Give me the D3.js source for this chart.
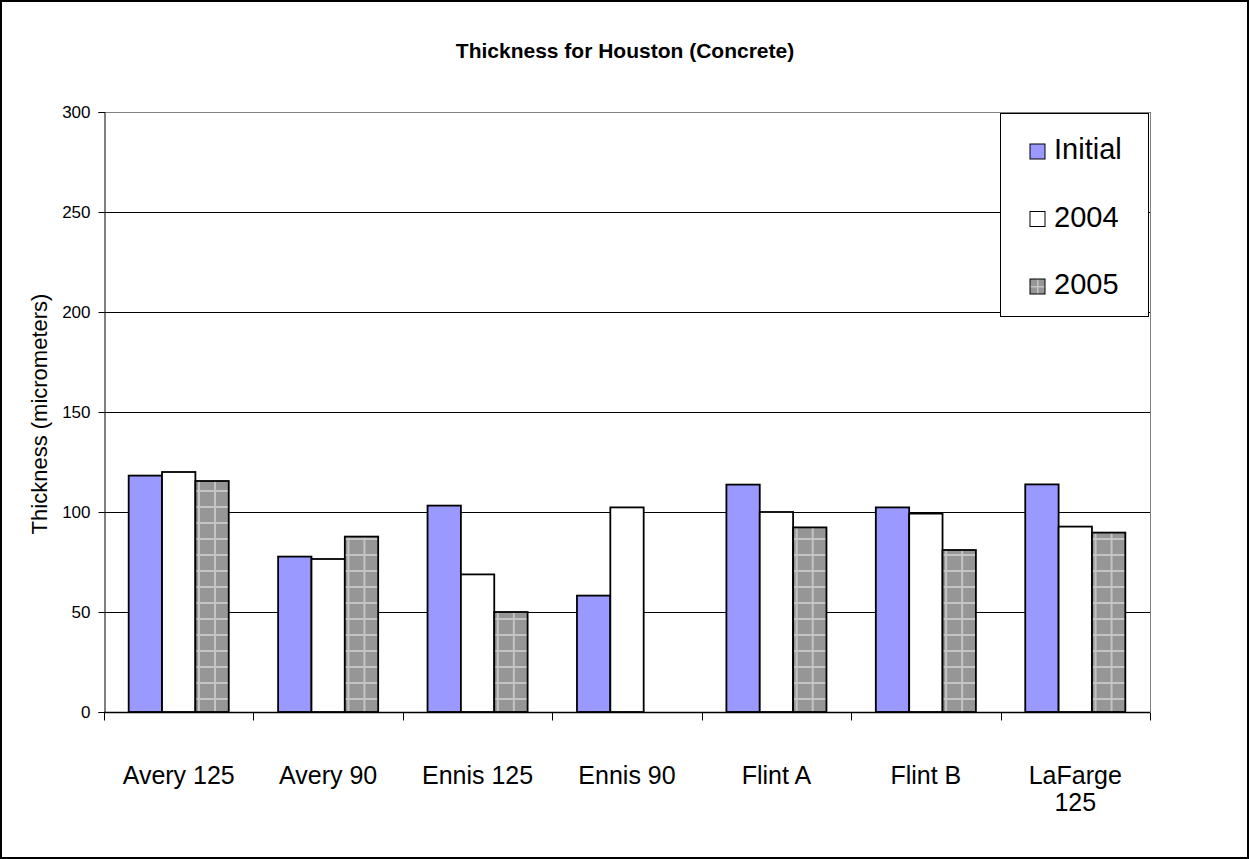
<!DOCTYPE html>
<html>
<head>
<meta charset="utf-8">
<script src="https://cdn.jsdelivr.net/npm/d3@7"></script>
<style>
  body { margin: 0; background: #fff; }
  text { font-family: "Liberation Sans", Arial, sans-serif; fill: #000; }
</style>
</head>
<body>
<script>
// chart data
const categories = ["Avery 125", "Avery 90", "Ennis 125", "Ennis 90", "Flint A", "Flint B", "LaFarge 125"];
const seriesNames = ["Initial", "2004", "2005"];
const initialValues = [118.2, 77.7, 103.2, 58.2, 113.7, 102.3, 113.8];
const values2004 = [120, 76.5, 68.8, 102.3, 100, 99.2, 92.7];
const values2005 = [115.5, 87.7, 50, null, 92.3, 81, 89.7];
const yTicks = [0, 50, 100, 150, 200, 250, 300];

const width = 1249, height = 859;
const plot = {left: 104, right: 1150, top: 112, bottom: 712};

const seriesValues = [initialValues, values2004, values2005];
const rows = categories.map((c, i) => ({
    cat: c,
    bars: seriesNames.map((s, j) => ({series: s, value: seriesValues[j][i]}))
}));

const svg = d3.select("body").append("svg")
    .attr("width", width)
    .attr("height", height);

// hatch pattern for the 2005 series
const defs = svg.append("defs");
const pat = defs.append("pattern")
    .attr("id", "grid")
    .attr("patternUnits", "userSpaceOnUse")
    .attr("width", 16).attr("height", 16)
    .attr("x", 4).attr("y", 0);
pat.append("rect").attr("width", 16).attr("height", 16).attr("fill", "#969696");
pat.append("rect").attr("x", 10).attr("width", 2).attr("height", 16).attr("fill", "#c4c4c4");
pat.append("rect").attr("y", 10).attr("width", 16).attr("height", 2).attr("fill", "#c4c4c4");

const legPat = defs.append("pattern")
    .attr("id", "gridLegend")
    .attr("patternUnits", "objectBoundingBox")
    .attr("width", 1).attr("height", 1);
legPat.append("rect").attr("width", 15).attr("height", 15).attr("fill", "#969696");
legPat.append("rect").attr("x", 7).attr("width", 1.5).attr("height", 15).attr("fill", "#c4c4c4");
legPat.append("rect").attr("y", 7).attr("width", 15).attr("height", 1.5).attr("fill", "#c4c4c4");

const fills = {"Initial": "#9999ff", "2004": "#ffffff", "2005": "url(#grid)"};

// outer chart border
svg.append("rect")
    .attr("x", 1).attr("y", 1)
    .attr("width", width - 2).attr("height", height - 2)
    .attr("fill", "white")
    .attr("stroke", "black")
    .attr("stroke-width", 2);

const x = d3.scaleBand().domain(categories).range([plot.left, plot.right]).padding(0);
const xInner = d3.scaleBand().domain(seriesNames).range([0, x.bandwidth()])
    .paddingInner(0).paddingOuter(0.74);
const y = d3.scaleLinear().domain([0, 300]).range([plot.bottom, plot.top]);

// gridlines
svg.append("g")
    .selectAll("line")
    .data(yTicks.filter(t => t > 0))
    .join("line")
        .attr("x1", plot.left).attr("x2", plot.right)
        .attr("y1", d => Math.round(y(d)) + 0.5)
        .attr("y2", d => Math.round(y(d)) + 0.5)
        .attr("stroke", d => d === 300 ? "#808080" : "#000")
        .attr("stroke-width", 1);

// right border of plot area
svg.append("line")
    .attr("x1", plot.right + 0.5).attr("x2", plot.right + 0.5)
    .attr("y1", plot.top).attr("y2", plot.bottom)
    .attr("stroke", "#808080");

// bars
const groups = svg.append("g")
    .selectAll("g")
    .data(rows)
    .join("g")
        .attr("transform", d => "translate(" + x(d.cat) + ",0)");

groups.selectAll("rect")
    .data(d => d.bars.filter(b => b.value != null))
    .join("rect")
        .attr("x", d => xInner(d.series))
        .attr("y", d => y(d.value))
        .attr("width", xInner.bandwidth())
        .attr("height", d => y(0) - y(d.value))
        .attr("fill", d => fills[d.series])
        .attr("stroke", "#000")
        .attr("stroke-width", 1.8);

// y axis
const yAxis = d3.axisLeft(y).tickValues(yTicks).tickSize(6).tickPadding(8);
const gy = svg.append("g")
    .attr("transform", "translate(" + (plot.left + 0.5) + ",0)")
    .call(yAxis);
gy.selectAll("text").style("font-size", "17px").attr("fill", "#000");
gy.selectAll("line, path").attr("stroke", "#000");

// x axis
const gx = svg.append("g")
    .attr("transform", "translate(0," + (plot.bottom + 0.5) + ")");
gx.append("line")
    .attr("x1", plot.left).attr("x2", plot.right)
    .attr("stroke", "#000").attr("stroke-width", 1.5);
gx.selectAll("line.tick")
    .data(d3.range(categories.length + 1))
    .join("line")
        .attr("class", "tick")
        .attr("x1", i => Math.round(plot.left + i * x.step()) + 0.5)
        .attr("x2", i => Math.round(plot.left + i * x.step()) + 0.5)
        .attr("y1", 0).attr("y2", 8)
        .attr("stroke", "#000");

// category labels, wrapped when too wide for the band
const xLab = gx.selectAll("text.cat")
    .data(categories)
    .join("text")
        .attr("class", "cat")
        .attr("x", d => x(d) + x.bandwidth() / 2)
        .attr("y", 71)
        .attr("text-anchor", "middle")
        .style("font-size", "25px")
        .text(d => d);

xLab.each(function(d) {
    const t = d3.select(this);
    if (this.getComputedTextLength() > x.bandwidth() - 30) {
        const words = d.split(" ");
        t.text(null);
        t.append("tspan").attr("x", x(d) + x.bandwidth() / 2).text(words.slice(0, -1).join(" "));
        t.append("tspan").attr("x", x(d) + x.bandwidth() / 2).attr("dy", 27).text(words[words.length - 1]);
    }
});

// title
svg.append("text")
    .attr("x", 625)
    .attr("y", 58)
    .attr("text-anchor", "middle")
    .style("font-size", "21px")
    .style("font-weight", "bold")
    .text("Thickness for Houston (Concrete)");

// y axis title
svg.append("text")
    .attr("transform", "translate(47,414) rotate(-90)")
    .attr("text-anchor", "middle")
    .style("font-size", "22px")
    .text("Thickness (micrometers)");

// legend
const legend = svg.append("g");
legend.append("rect")
    .attr("x", 1000.5).attr("y", 113.5)
    .attr("width", 148).attr("height", 203)
    .attr("fill", "white")
    .attr("stroke", "#000");

const legItems = legend.selectAll("g")
    .data(seriesNames)
    .join("g")
        .attr("transform", (d, i) => "translate(1030," + (159 + i * 67.5) + ")");

legItems.append("rect")
    .attr("x", 0).attr("y", -15)
    .attr("width", 15).attr("height", 15)
    .attr("fill", d => d === "2005" ? "url(#gridLegend)" : fills[d])
    .attr("stroke", "#000")
    .attr("stroke-width", 1);

legItems.append("text")
    .attr("x", 24)
    .attr("y", 0)
    .style("font-size", "29px")
    .text(d => d);
</script>
</body>
</html>
